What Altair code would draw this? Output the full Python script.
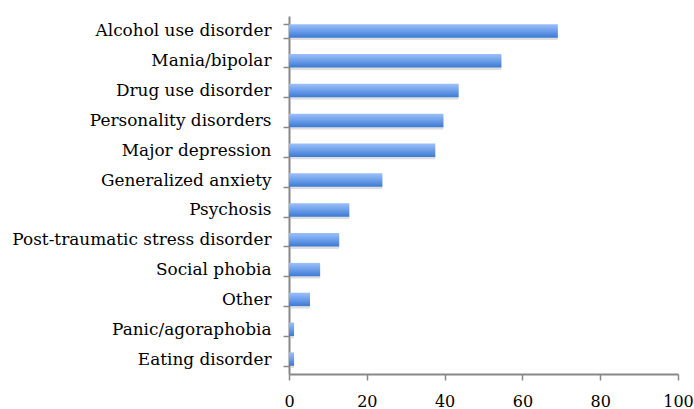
import altair as alt
import pandas as pd

categories = [
    "Alcohol use disorder",
    "Mania/bipolar",
    "Drug use disorder ",
    "Personality disorders",
    "Major depression",
    "Generalized anxiety ",
    "Psychosis ",
    "Post-traumatic stress disorder",
    "Social phobia",
    "Other",
    "Panic/agoraphobia ",
    "Eating disorder",
]
values = [69.1, 54.6, 43.6, 39.7, 37.6, 24.0, 15.5, 12.9, 8.0, 5.4, 1.3, 1.3]
x_ticks = [0, 20, 40, 60, 80, 100]

df = pd.DataFrame({"category": categories, "value": values})

FONT = "DejaVu Serif"

y_enc = alt.Y(
    "category:N",
    sort=categories,
    scale=alt.Scale(paddingInner=0.55, paddingOuter=0.275),
    axis=alt.Axis(
        title=None,
        tickBand="extent",
        tickSize=6,
        tickColor="#888888",
        tickWidth=1.5,
        domainColor="#888888",
        domainWidth=2,
        labelFont=FONT,
        labelFontSize=16.9,
        labelColor="#000000",
        labelPadding=12,
        labelLimit=400,
    ),
)
x_enc = alt.X(
    "value:Q",
    scale=alt.Scale(domain=[0, 100], nice=False),
    axis=alt.Axis(
        title=None,
        values=x_ticks,
        grid=False,
        tickSize=6,
        tickColor="#888888",
        tickWidth=1.5,
        domainColor="#888888",
        domainWidth=2,
        labelFont=FONT,
        labelFontSize=16,
        labelColor="#000000",
        labelPadding=13,
        labelFlush=False,
        labelOverlap=False,
    ),
)

shadow = alt.Chart(df).mark_bar(
    color="#b8b8b8", opacity=0.45, xOffset=2, yOffset=2.5, cornerRadius=1
).encode(x=x_enc, y=y_enc)

bars = alt.Chart(df).mark_bar(
    color=alt.Gradient(
        gradient="linear",
        x1=0, y1=0, x2=0, y2=1,
        stops=[
            alt.GradientStop(color="#9cc0f8", offset=0),
            alt.GradientStop(color="#6c9eea", offset=0.5),
            alt.GradientStop(color="#3c7ad2", offset=1),
        ],
    )
).encode(x=x_enc, y=y_enc)

chart = (
    alt.layer(shadow, bars)
    .properties(
        width=389,
        height=358,
        autosize=alt.AutoSizeParams(type="none"),
        padding={"left": 289, "top": 16, "right": 16, "bottom": 35},
        background="white",
    )
    .configure_view(stroke=None)
)

chart.save("out.html", embed_options={"renderer": "svg", "actions": False})
